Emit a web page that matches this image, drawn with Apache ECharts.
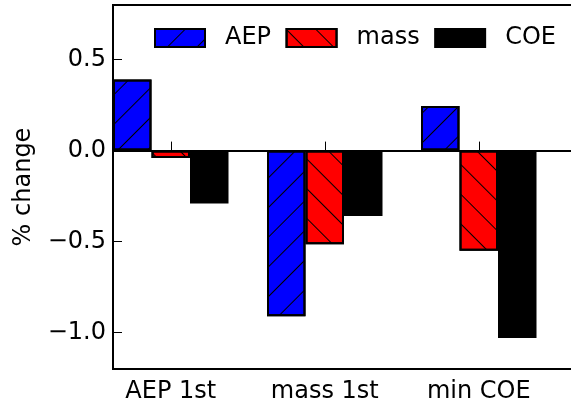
<!DOCTYPE html>
<html>
<head>
<meta charset="utf-8">
<script src="https://cdn.jsdelivr.net/npm/echarts@6/dist/echarts.min.js"></script>
<style>
  html, body { margin: 0; padding: 0; background: #fff; }
  #chart { width: 571px; height: 409px; }
</style>
</head>
<body>
<div id="chart"></div>
<script>
var categories = ['AEP 1st', 'mass 1st', 'min COE'];
var aepVals = [0.39, -0.91, 0.245];
var massVals = [-0.04, -0.515, -0.55];
var coeVals = [-0.29, -0.36, -1.03];
var yTicks = [-1.0, -0.5, 0.0, 0.5];

var fontFam = 'DejaVu Sans';
var barW = 38.5; // 0.25 of a group slot
var tickPos = categories.map(function (c, i) { return i + 0.375; });

// bars sit at i+0.125, i+0.375, i+0.625
function place(vals, off) {
  return vals.map(function (v, i) { return [i + off, v]; });
}

function hatch(rot) {
  return {
    symbol: 'rect',
    symbolSize: 1,
    dashArrayX: [1, 0],
    dashArrayY: [1, 20],
    rotation: rot,
    color: '#000'
  };
}

var chart = echarts.init(document.getElementById('chart'));

var option = {
  animation: false,
  textStyle: { fontFamily: fontFam, color: '#000' },
  grid: {
    left: 113, top: 5, right: -4, bottom: 40,
    outerBoundsMode: 'none',
    show: true, borderColor: '#000', borderWidth: 2
  },
  legend: {
    left: 154, top: 26, padding: 0,
    itemWidth: 50, itemHeight: 18, itemGap: 14.5,
    textStyle: { fontSize: 24, fontFamily: fontFam, color: '#000', padding: [0, 0, 0, 15] },
    data: [
      { name: 'AEP', icon: 'rect' },
      { name: 'mass', icon: 'rect' },
      { name: 'COE', icon: 'rect' }
    ]
  },
  graphic: [{
    type: 'text',
    x: 24,
    y: 187,
    rotation: Math.PI / 2,
    style: {
      text: '% change',
      fontSize: 24,
      fontFamily: fontFam,
      fill: '#000',
      align: 'center',
      verticalAlign: 'middle'
    }
  }],
  xAxis: {
    type: 'value',
    min: 0,
    max: 3,
    axisLine: { show: false },
    splitLine: { show: false },
    axisTick: {
      show: true, inside: true, length: 9,
      customValues: tickPos,
      lineStyle: { color: '#000', width: 1 }
    },
    axisLabel: {
      customValues: tickPos,
      margin: 11,
      fontSize: 24,
      color: '#000',
      fontFamily: fontFam,
      formatter: function (v) { return categories[Math.round(v - 0.375)]; }
    }
  },
  yAxis: {
    type: 'value',
    min: -1.2,
    max: 0.8,
    axisLine: { show: false },
    splitLine: { show: false },
    axisTick: {
      show: true, inside: true, length: 9,
      customValues: yTicks,
      lineStyle: { color: '#000', width: 1 }
    },
    axisLabel: {
      customValues: yTicks,
      margin: 7,
      fontSize: 24,
      color: '#000',
      fontFamily: fontFam,
      formatter: function (v) { return v.toFixed(1).replace('-', '\u2212'); }
    }
  },
  series: [
    {
      name: 'AEP',
      type: 'bar',
      barWidth: barW,
      barGap: '-100%',
      data: place(aepVals, 0.125),
      itemStyle: { color: '#0000ff', borderColor: '#000', borderWidth: 2, decal: hatch(-Math.PI / 4) },
      markLine: {
        silent: true,
        symbol: 'none',
        label: { show: false },
        lineStyle: { color: '#000', width: 2, type: 'solid' },
        data: [{ yAxis: 0 }]
      }
    },
    {
      name: 'mass',
      type: 'bar',
      barWidth: barW,
      barGap: '-100%',
      data: place(massVals, 0.375),
      itemStyle: { color: '#ff0000', borderColor: '#000', borderWidth: 2, decal: hatch(Math.PI / 4) }
    },
    {
      name: 'COE',
      type: 'bar',
      barWidth: barW,
      barGap: '-100%',
      data: place(coeVals, 0.625),
      itemStyle: { color: '#000', borderColor: '#000', borderWidth: 2 }
    }
  ]
};

chart.setOption(option);
</script>
</body>
</html>
